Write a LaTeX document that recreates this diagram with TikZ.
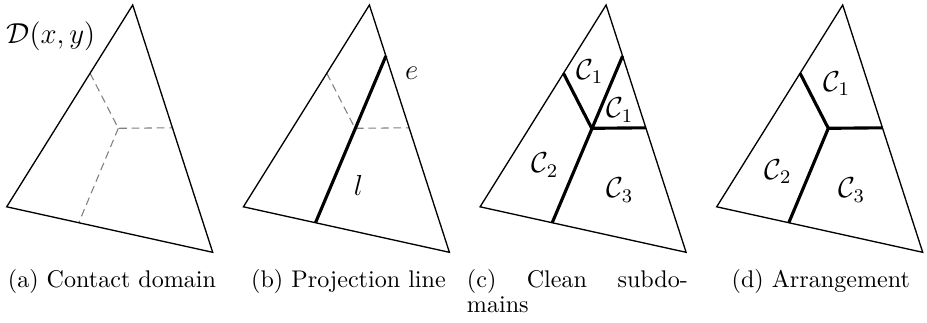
\documentclass[tikz,border=0pt]{standalone}
\usepackage{amsmath,amssymb}
\usepackage{tikz}
\usepackage{xcolor}

\begin{document}
\begin{tikzpicture}[x=0.415pt,y=0.415pt,every node/.style={inner sep=0pt},
  rim/.style={draw=black,line width=0.55pt},
  cut/.style={draw=black,line width=1.3pt},
  guide/.style={draw=gray,line width=0.45pt,dash pattern=on 3.2pt off 2pt},
  caplabel/.style={font=\fontsize{10}{10.3}\selectfont},
  mathlabel/.style={font=\fontsize{11.5}{13}\selectfont}]
\useasboundingbox (0,0) rectangle (927,-322);
% (a) contact domain
\coordinate (a-top) at (132.7,-5);
\coordinate (a-left) at (6.7,-206.8);
\coordinate (a-right) at (212.7,-252.3);
\coordinate (a-pl) at (90.1,-73.3);
\coordinate (a-ctr) at (118.3,-128.3);
\coordinate (a-pr) at (172.4,-127.8);
\coordinate (a-pb) at (78.8,-222.7);
\draw[guide] (a-pl) -- (a-ctr) -- (a-pr);
\draw[guide] (a-ctr) -- (a-pb);
\draw[rim] (a-top) -- (a-right) -- (a-left) -- cycle;
\node[mathlabel,anchor=base west] (a-dom) at (6,-43) {$\mathcal{D}(x,y)$};
\node[caplabel,anchor=base] (a-cap) at (112,-287.5) {(a) Contact domain};
% (b) projection line
\begin{scope}[shift={(236.7,0)}]
\coordinate (b-top) at (132.7,-5);
\coordinate (b-left) at (6.7,-206.8);
\coordinate (b-right) at (212.7,-252.3);
\coordinate (b-pl) at (90.1,-73.3);
\coordinate (b-ctr) at (118.3,-128.3);
\coordinate (b-pr) at (172.4,-127.8);
\coordinate (b-pb) at (78.8,-222.7);
\coordinate (b-pu) at (149.2,-56);
\draw[guide] (b-pl) -- (b-ctr) -- (b-pr);
\draw[cut] (b-pb) -- (b-pu);
\draw[rim] (b-top) -- (b-right) -- (b-left) -- cycle;
\node[mathlabel] (b-e) at (175,-73.3) {$e$};
\node[mathlabel] (b-l) at (121.6,-185) {$l$};
\node[caplabel,anchor=base] (b-cap) at (111.8,-287.5) {(b) Projection line};
\end{scope}
% (c) clean subdomains
\begin{scope}[shift={(473.4,0)}]
\coordinate (c-top) at (132.7,-5);
\coordinate (c-left) at (6.7,-206.8);
\coordinate (c-right) at (212.7,-252.3);
\coordinate (c-pl) at (90.1,-73.3);
\coordinate (c-ctr) at (118.3,-128.3);
\coordinate (c-pr) at (172.4,-127.8);
\coordinate (c-pb) at (78.8,-222.7);
\coordinate (c-pu) at (149.2,-56);
\draw[cut] (c-pl) -- (c-ctr) -- (c-pr);
\draw[cut] (c-pb) -- (c-pu);
\draw[rim] (c-top) -- (c-right) -- (c-left) -- cycle;
\node[mathlabel] (c-c1) at (116.6,-71.7) {$\mathcal{C}_1$};
\node[mathlabel] (c-c1b) at (146.6,-110) {$\mathcal{C}_1$};
\node[mathlabel] (c-c2) at (71.6,-165) {$\mathcal{C}_2$};
\node[mathlabel] (c-c3) at (146.6,-190) {$\mathcal{C}_3$};
\node[caplabel,anchor=base west,text width=91.7pt,align=left] (c-cap) at (-6.9,-287.5) {(c)\hfill Clean\hfill subdo-\\mains};
\end{scope}
% (d) arrangement
\begin{scope}[shift={(710,0)}]
\coordinate (d-top) at (132.7,-5);
\coordinate (d-left) at (6.7,-206.8);
\coordinate (d-right) at (212.7,-252.3);
\coordinate (d-pl) at (90.1,-73.3);
\coordinate (d-ctr) at (118.3,-128.3);
\coordinate (d-pr) at (172.4,-127.8);
\coordinate (d-pb) at (78.8,-222.7);
\draw[cut] (d-pl) -- (d-ctr) -- (d-pr);
\draw[cut] (d-ctr) -- (d-pb);
\draw[rim] (d-top) -- (d-right) -- (d-left) -- cycle;
\node[mathlabel] (d-c1) at (126.7,-83.3) {$\mathcal{C}_1$};
\node[mathlabel] (d-c2) at (68.3,-171.7) {$\mathcal{C}_2$};
\node[mathlabel] (d-c3) at (141.7,-190) {$\mathcal{C}_3$};
\node[caplabel,anchor=base] (d-cap) at (110.8,-287.5) {(d) Arrangement};
\end{scope}
\end{tikzpicture}
\end{document}
